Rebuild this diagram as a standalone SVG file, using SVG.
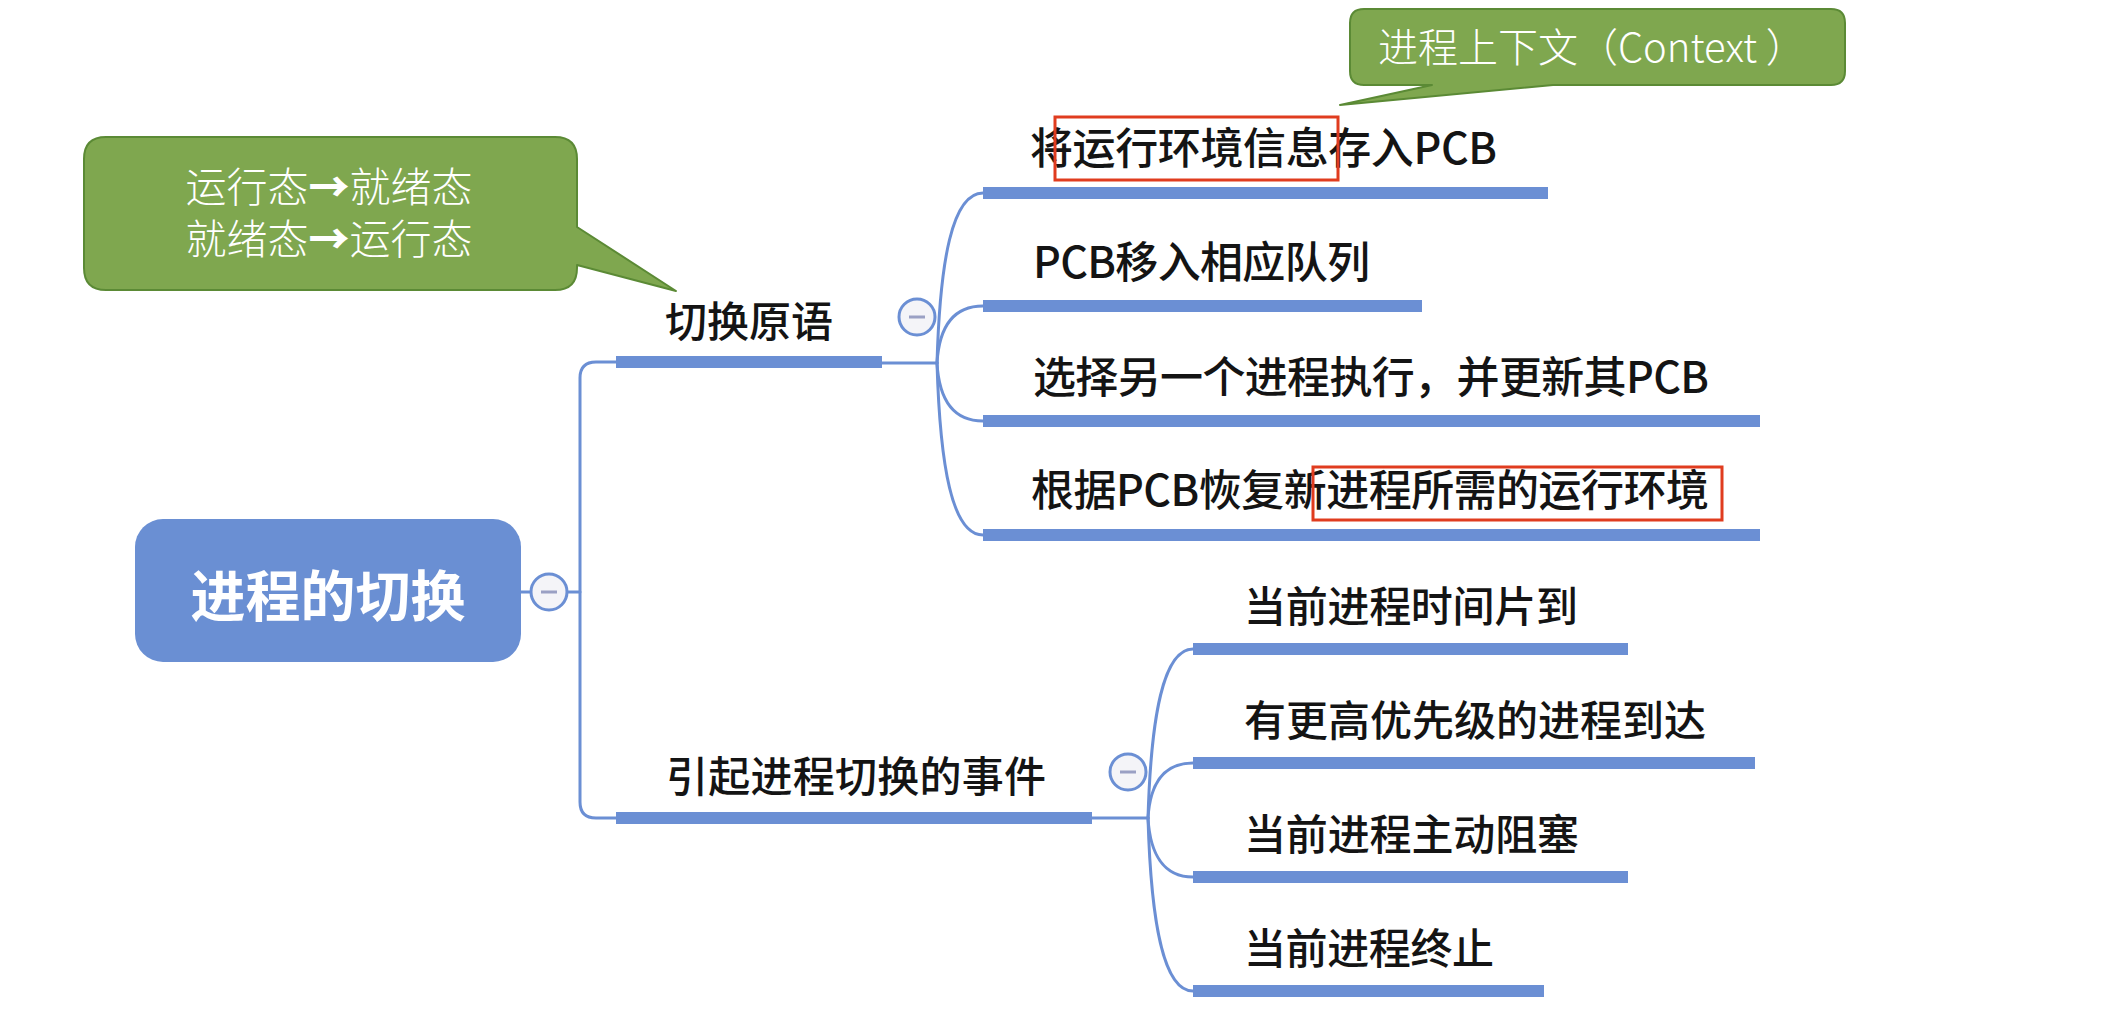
<svg xmlns="http://www.w3.org/2000/svg" width="2111" height="1023" viewBox="0 0 2111 1023">
<style>
.bg{fill:#ffffff}
.conn{fill:none;stroke:#6b8fd4;stroke-width:3;stroke-linecap:round}
.ul{stroke:#6b8fd4;stroke-width:12;stroke-linecap:butt}
.lbl{font-family:"Noto Sans CJK SC","Noto Sans",sans-serif;fill:#141414;font-size:43px;font-weight:500}
.lbl1{font-family:"Noto Sans CJK SC","Noto Sans",sans-serif;fill:#141414;font-size:42px;font-weight:500}
.root{fill:#6a8fd3}
.roottxt{font-family:"Noto Sans CJK SC","Noto Sans",sans-serif;fill:#ffffff;font-size:55px;font-weight:700}
.tog{fill:#f4f4f8;stroke:#6b8fd4;stroke-width:3}
.minus{stroke:#9aa0c4;stroke-width:3}
.call{fill:#7fa74f;stroke:#5b8a35;stroke-width:2;stroke-linejoin:round}
.calltxt{font-family:"Noto Sans CJK SC","Noto Sans",sans-serif;fill:#ffffff;font-weight:300}
.arr{font-weight:900}
.hl{fill:none;stroke:#e03c1f;stroke-width:3}
</style>
<rect class="bg" x="0" y="0" width="2111" height="1023"/>

<g id="connectors">
  <line class="conn" x1="521" y1="592" x2="530" y2="592"/>
  <line class="conn" x1="568" y1="592" x2="580" y2="592"/>
  <path class="conn" d="M616,362 H596 Q580,362 580,378 V802 Q580,818 596,818 H616"/>
  <line class="conn" x1="882" y1="363" x2="937" y2="363"/>
  <path class="conn" d="M937,363 C940,261 952,193 983,193"/>
  <path class="conn" d="M937,363 C939,329 952,306 983,306"/>
  <path class="conn" d="M937,363 C939,398 952,421 983,421"/>
  <path class="conn" d="M937,363 C940,466 952,535 983,535"/>
  <line class="conn" x1="1092" y1="818" x2="1148" y2="818"/>
  <path class="conn" d="M1148,818 C1151,717 1163,649 1193,649"/>
  <path class="conn" d="M1148,818 C1150,784 1163,763 1193,763"/>
  <path class="conn" d="M1148,818 C1150,853 1163,877 1193,877"/>
  <path class="conn" d="M1148,818 C1151,921 1163,991 1193,991"/>
</g>

<g id="root">
  <rect class="root" x="135" y="519" width="386" height="143" rx="28" ry="28"/>
  <text class="roottxt" x="328" y="616" text-anchor="middle">进程的切换</text>
</g>
<g id="toggle-root">
  <circle class="tog" cx="549" cy="592" r="18"/>
  <line class="minus" x1="541" y1="592" x2="557" y2="592"/>
</g>

<g id="n-primitive">
  <line class="ul" x1="616" y1="362" x2="882" y2="362"/>
  <text class="lbl1" x="665" y="337" textLength="168" lengthAdjust="spacing">切换原语</text>
</g>
<g id="toggle-primitive">
  <circle class="tog" cx="917" cy="317" r="18"/>
  <line class="minus" x1="909" y1="317" x2="925" y2="317"/>
</g>

<g id="n-events">
  <line class="ul" x1="616" y1="818" x2="1092" y2="818"/>
  <text class="lbl1" x="666" y="792" textLength="380" lengthAdjust="spacing">引起进程切换的事件</text>
</g>
<g id="toggle-events">
  <circle class="tog" cx="1128" cy="772" r="18"/>
  <line class="minus" x1="1120" y1="772" x2="1136" y2="772"/>
</g>

<g id="t1">
  <line class="ul" x1="983" y1="193" x2="1548" y2="193"/>
  <text class="lbl" x="1030" y="164" textLength="467" lengthAdjust="spacing">将运行环境信息存入PCB</text>
</g>
<g id="t2">
  <line class="ul" x1="983" y1="306" x2="1422" y2="306"/>
  <text class="lbl" x="1033" y="278" textLength="337" lengthAdjust="spacing">PCB移入相应队列</text>
</g>
<g id="t3">
  <line class="ul" x1="983" y1="421" x2="1760" y2="421"/>
  <text class="lbl" x="1033" y="393" textLength="676" lengthAdjust="spacing">选择另一个进程执行，并更新其PCB</text>
</g>
<g id="t4">
  <line class="ul" x1="983" y1="535" x2="1760" y2="535"/>
  <text class="lbl" x="1031" y="506" textLength="678" lengthAdjust="spacing">根据PCB恢复新进程所需的运行环境</text>
</g>

<g id="b1">
  <line class="ul" x1="1193" y1="649" x2="1628" y2="649"/>
  <text class="lbl1" x="1244" y="622" textLength="334" lengthAdjust="spacing">当前进程时间片到</text>
</g>
<g id="b2">
  <line class="ul" x1="1193" y1="763" x2="1755" y2="763"/>
  <text class="lbl1" x="1244" y="736" textLength="462" lengthAdjust="spacing">有更高优先级的进程到达</text>
</g>
<g id="b3">
  <line class="ul" x1="1193" y1="877" x2="1628" y2="877"/>
  <text class="lbl1" x="1244" y="850" textLength="335" lengthAdjust="spacing">当前进程主动阻塞</text>
</g>
<g id="b4">
  <line class="ul" x1="1193" y1="991" x2="1544" y2="991"/>
  <text class="lbl1" x="1244" y="964" textLength="250" lengthAdjust="spacing">当前进程终止</text>
</g>

<g id="callout-state">
  <path class="call" d="M106,137 H555 Q577,137 577,159 V227 L676,291 L577,265 V268 Q577,290 555,290 H106 Q84,290 84,268 V159 Q84,137 106,137 Z"/>
  <text class="calltxt" font-size="41" text-anchor="middle"><tspan x="329" y="202">运行态<tspan class="arr">→</tspan>就绪态</tspan><tspan x="329" y="254">就绪态<tspan class="arr">→</tspan>运行态</tspan></text>
</g>

<g id="callout-context">
  <path class="call" d="M1364,9 H1831 Q1845,9 1845,23 V71 Q1845,85 1831,85 H1553 L1340,105 L1432,85 H1364 Q1350,85 1350,71 V23 Q1350,9 1364,9 Z"/>
  <text class="calltxt" x="1378" y="62" font-size="40">进程上下文（Context ）</text>
</g>

<g id="highlights">
  <rect class="hl" x="1055" y="117" width="283" height="63"/>
  <rect class="hl" x="1313" y="467" width="409" height="53"/>
</g>
</svg>
